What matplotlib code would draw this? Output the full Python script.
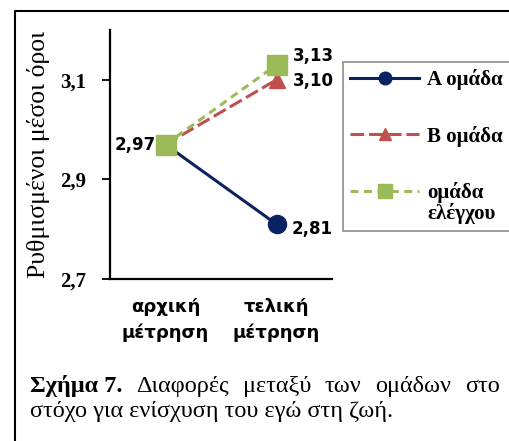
import matplotlib.pyplot as plt
from matplotlib.lines import Line2D
from matplotlib.legend_handler import HandlerLine2D

# group means at the two measurements
stages = ["αρχική\nμέτρηση", "τελική\nμέτρηση"]
group_a = [2.97, 2.81]
group_b = [2.97, 3.10]
control = [2.97, 3.13]
names = ["Α ομάδα", "Β ομάδα", "ομάδα\nελέγχου"]
yticks = [2.7, 2.9, 3.1]

navy = "#0b2262"
red = "#c0504d"
green = "#9bbb59"
serif = "Liberation Serif"
sans = "DejaVu Sans"

fig = plt.figure(figsize=(5.1, 4.41), dpi=100)
ax = fig.add_axes([110 / 510, 1 - 279 / 441, 222 / 510, 249 / 441])

x = range(len(stages))
ax.plot(x, group_a, color=navy, lw=2.2, marker="o", ms=13, label=names[0])
ax.plot(x, group_b, color=red, lw=2.2, marker="^", ms=12,
        dashes=(4.5, 1.6), label=names[1])
line_c, = ax.plot(x, control, color=green, lw=2.2, marker="s", ms=14,
                  dashes=(2.6, 1.8), label=names[2])

ax.set_xlim(-0.5, 1.5)
ax.set_ylim(2.7, 3.2)
ax.set_yticks(yticks)
ax.set_yticklabels([f"{v:.1f}".replace(".", ",") for v in yticks],
                   fontfamily=serif, fontweight="bold", fontsize=15)
ax.set_xticks(list(x))
ax.set_xticklabels(stages, fontfamily=sans, fontweight="bold", fontsize=13,
                   linespacing=1.5)
ax.tick_params(axis="x", length=0, pad=14)
ax.tick_params(axis="y", length=6, width=1.3, pad=11)
for side in ["top", "right"]:
    ax.spines[side].set_visible(False)
for side in ["left", "bottom"]:
    ax.spines[side].set_linewidth(1.6)
ax.set_ylabel("Ρυθμισμένοι μέσοι όροι", fontfamily=serif, fontsize=18.5)
ax.yaxis.set_label_coords(-0.27, 0.5)

# value labels next to the markers
def fmt(v):
    return f"{v:.2f}".replace(".", ",")

lab = dict(fontfamily=sans, fontweight="bold", fontsize=12, va="center",
           textcoords="offset points")
ax.annotate(fmt(group_a[0]), (0, group_a[0]), xytext=(-7, 0), ha="right", **lab)
ax.annotate(fmt(group_a[1]), (1, group_a[1]), xytext=(11, -3.5), ha="left", **lab)
ax.annotate(fmt(group_b[1]), (1, group_b[1]), xytext=(12, -1), ha="left", **lab)
ax.annotate(fmt(control[1]), (1, control[1]), xytext=(12, 6.5), ha="left", **lab)


# keep the control-group handle level with the first line of its label
def raise_handle(legend_handle, orig_handle):
    legend_handle.update_from(orig_handle)
    legend_handle.set_ydata(legend_handle.get_ydata() + 9)


leg = fig.legend(loc="upper left", bbox_to_anchor=(343 / 510, 1 - 62 / 441),
                 prop={"family": serif, "weight": "bold", "size": 15},
                 handlelength=3.3, labelspacing=1.7, borderpad=0.35,
                 borderaxespad=0, handletextpad=0.4, fancybox=False,
                 framealpha=1, markerscale=0.7,
                 handler_map={line_c: HandlerLine2D(update_func=raise_handle)})
leg.get_frame().set_edgecolor("#8c8c8c")
leg.get_frame().set_linewidth(1.2)
for t in leg.get_texts():
    t.set_linespacing(1.0)

# outer frame, left and top edges
fig.add_artist(Line2D([15 / 510, 15 / 510, 1.0], [0, 1 - 11 / 441, 1 - 11 / 441],
                      color="black", lw=1.5, transform=fig.transFigure))

# caption, first line justified between the margins
cap = dict(fontfamily=serif, fontsize=17.5, va="baseline")
left, right = 30, 500
words = ["Διαφορές", "μεταξύ", "των", "ομάδων", "στο"]
renderer = fig.canvas.get_renderer()
head = fig.text(left / 510, 1 - 392 / 441, "Σχήμα 7.", fontweight="bold", **cap)
parts = [fig.text(0, 1 - 392 / 441, w, **cap) for w in words]
widths = [t.get_window_extent(renderer).width for t in [head] + parts]
gap = (right - left - sum(widths)) / len(words)
pos = left + widths[0] + gap
for t, w in zip(parts, widths[1:]):
    t.set_x(pos / 510)
    pos += w + gap
fig.text(left / 510, 1 - 417 / 441, "στόχο για ενίσχυση του εγώ στη ζωή.", **cap)

fig.savefig("out.png", dpi=100)
